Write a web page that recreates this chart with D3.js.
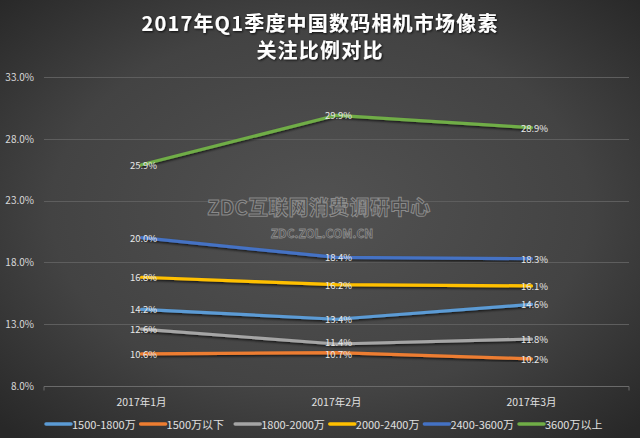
<!DOCTYPE html>
<html><head><meta charset="utf-8">
<script src="https://cdn.jsdelivr.net/npm/d3@7"></script>
<style>
html,body{margin:0;padding:0;background:#333;}
svg{display:block;}
text{font-family:"Noto Sans CJK SC","Noto Sans",sans-serif;}
</style></head>
<body>
<svg id="chart" width="640" height="438"></svg>
<script>
const titleLines = ["2017年Q1季度中国数码相机市场像素", "关注比例对比"];
const categories = ["2017年1月", "2017年2月", "2017年3月"];
const seriesNames = ["1500-1800万", "1500万以下", "1800-2000万", "2000-2400万", "2400-3600万", "3600万以上"];
const seriesColors = ["#5b9bd5", "#ed7d31", "#a5a5a5", "#ffc000", "#4472c4", "#70ad47"];
const values1500_1800 = [14.2, 13.4, 14.6];
const valuesBelow1500 = [10.6, 10.7, 10.2];
const values1800_2000 = [12.6, 11.4, 11.8];
const values2000_2400 = [16.8, 16.2, 16.1];
const values2400_3600 = [20.0, 18.4, 18.3];
const valuesAbove3600 = [25.9, 29.9, 28.9];
const yTicks = [8, 13, 18, 23, 28, 33];
const watermark = ["ZDC互联网消费调研中心", "ZDC.ZOL.COM.CN"];

const seriesValues = [values1500_1800, valuesBelow1500, values1800_2000, values2000_2400, values2400_3600, valuesAbove3600];
const series = seriesNames.map((n, i) => ({name: n, color: seriesColors[i], values: seriesValues[i]}));

const W = 640, H = 438;
const svg = d3.select("#chart");
const defs = svg.append("defs");
const rg = defs.append("radialGradient").attr("id", "bg")
  .attr("cx", "50%").attr("cy", "48%").attr("r", "70%");
rg.append("stop").attr("offset", "0%").attr("stop-color", "#525252");
rg.append("stop").attr("offset", "60%").attr("stop-color", "#434343");
rg.append("stop").attr("offset", "100%").attr("stop-color", "#282828");
const f = defs.append("filter").attr("id", "shadow").attr("x", "-10%").attr("y", "-50%").attr("width", "120%").attr("height", "200%");
f.append("feDropShadow").attr("dx", 0).attr("dy", 1.5).attr("stdDeviation", 1.2).attr("flood-color", "#000").attr("flood-opacity", 0.7);
const ft = defs.append("filter").attr("id", "tshadow").attr("x", "-10%").attr("y", "-30%").attr("width", "120%").attr("height", "160%");
ft.append("feDropShadow").attr("dx", 1).attr("dy", 1).attr("stdDeviation", 0.8).attr("flood-color", "#000").attr("flood-opacity", 0.8);

svg.append("rect").attr("width", W).attr("height", H).attr("fill", "url(#bg)");

const margin = {left: 44, right: 11, top: 77, bottom: 52};
const x = d3.scaleBand().domain(categories).range([margin.left, W - margin.right]);
const y = d3.scaleLinear().domain([8, 33]).range([386, 77]);

// gridlines
svg.append("g").selectAll("line").data(yTicks.filter(t => t !== 8)).join("line")
  .attr("x1", margin.left).attr("x2", W - margin.right)
  .attr("y1", d => Math.round(y(d)) + 0.5).attr("y2", d => Math.round(y(d)) + 0.5)
  .attr("stroke", "#5e5e5e").attr("stroke-width", 1);

// y axis labels
const yAxis = d3.axisLeft(y).tickValues(yTicks).tickFormat(d => d3.format(".1f")(d) + "%").tickSize(0).tickPadding(10);
const ya = svg.append("g").attr("transform", `translate(${margin.left},0)`).call(yAxis);
ya.select(".domain").remove();
ya.selectAll("text").attr("fill", "#d8d8d8").attr("font-size", 10).style("font-family", '"Noto Sans CJK SC",sans-serif');

// x axis
const xAxis = d3.axisBottom(x).tickSize(0).tickPadding(10);
const xa = svg.append("g").attr("transform", `translate(0,${Math.round(y(8)) + 0.5})`).call(xAxis);
xa.select(".domain").attr("stroke", "#6a6a6a").attr("d", `M${margin.left},4V0H${W - margin.right}V4`);
xa.selectAll("text").attr("fill", "#e0e0e0").attr("font-size", 10.5).attr("dy", "0.9em").style("font-family", '"Noto Sans CJK SC",sans-serif');

// watermark
svg.append("text").attr("x", 319).attr("y", 206).attr("text-anchor", "middle").attr("dominant-baseline", "central")
  .attr("font-size", 20).attr("font-weight", "bold").attr("fill", "#484848").attr("stroke", "#8a8a8a").attr("stroke-width", 1)
  .attr("letter-spacing", 0.3).text(watermark[0]);
svg.append("text").attr("x", 322).attr("y", 232).attr("text-anchor", "middle").attr("dominant-baseline", "central")
  .attr("font-size", 12).attr("font-weight", "bold").attr("fill", "#484848").attr("stroke", "#8a8a8a").attr("stroke-width", 0.8)
  .text(watermark[1]);

// lines
const cx = c => x(c) + x.bandwidth() / 2;
const line = d3.line().x((d, i) => cx(categories[i])).y(d => y(d));
const drawOrder = [5, 4, 3, 0, 2, 1];
svg.append("g").selectAll("path").data(drawOrder.map(i => series[i])).join("path")
  .attr("d", d => line(d.values)).attr("fill", "none").attr("stroke", d => d.color)
  .attr("stroke-width", 3.2).attr("stroke-linejoin", "round").attr("stroke-linecap", "round")
  .attr("filter", "url(#shadow)");

// data labels (tiny vertical nudge where two labels nearly touch)
const nudge = (s, i) => (s.name === "1800-2000万" && i === 1) ? -1.5 : (s.name === "1500万以下" && i === 1) ? 1 : 0;
const lg = svg.append("g");
series.forEach(s => {
  lg.selectAll(null).data(s.values).join("text")
    .attr("x", (d, i) => cx(categories[i]) + (i === 2 ? 3 : 2)).attr("y", (d, i) => y(d) + nudge(s, i))
    .attr("text-anchor", "middle").attr("dominant-baseline", "central")
    .attr("font-size", 9.5).attr("fill", "#e8e8e8")
    .text(d => d3.format(".1f")(d) + "%");
});

// title
svg.append("g").selectAll("text").data(titleLines).join("text")
  .attr("x", 320).attr("y", (d, i) => 22 + i * 27).attr("text-anchor", "middle").attr("dominant-baseline", "central")
  .attr("font-size", 20).attr("font-weight", "bold").attr("fill", "#ffffff").attr("letter-spacing", 1.2)
  .attr("filter", "url(#tshadow)").text(d => d);

// legend
const legX = d3.scaleLinear().domain([0, seriesNames.length]).range([46, 46 + 94.6 * seriesNames.length]);
const leg = svg.append("g").selectAll("g").data(series).join("g")
  .attr("transform", (d, i) => `translate(${legX(i)},424)`);
leg.append("line").attr("x1", 0).attr("x2", 25).attr("y1", 0).attr("y2", 0)
  .attr("stroke", d => d.color).attr("stroke-width", 3.5).attr("stroke-linecap", "round");
leg.append("text").attr("x", 26).attr("y", 0).attr("dominant-baseline", "central")
  .attr("font-size", 11).attr("fill", "#e0e0e0").text(d => d.name);
</script>
</body></html>
